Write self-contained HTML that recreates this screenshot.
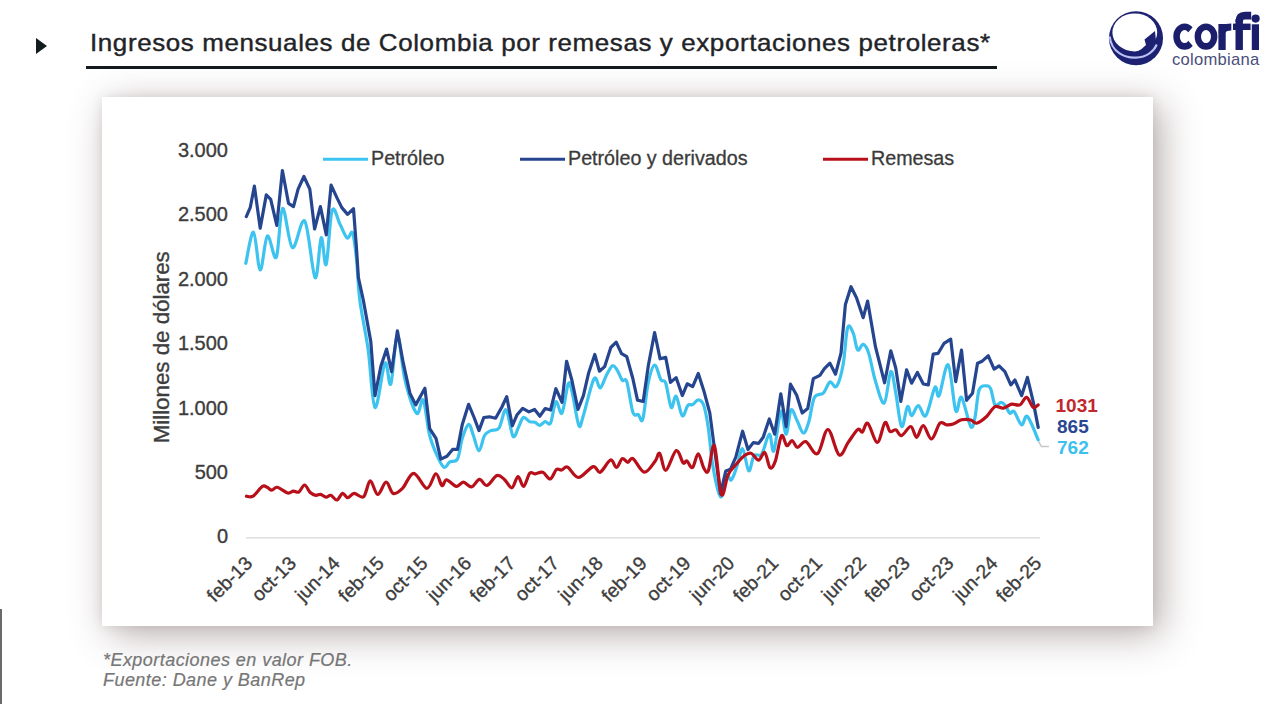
<!DOCTYPE html>
<html><head><meta charset="utf-8">
<style>
html,body{margin:0;padding:0;background:#fff;}
body{width:1280px;height:721px;position:relative;overflow:hidden;font-family:"Liberation Sans",sans-serif;}
.abs{position:absolute;}
#tri{left:35.5px;top:37.5px;width:0;height:0;border-top:8.6px solid transparent;border-bottom:8.6px solid transparent;border-left:11px solid #121c1e;}
#title{left:89.6px;top:28px;font-size:23.6px;color:#1f2428;white-space:nowrap;line-height:30px;letter-spacing:0.55px;transform-origin:0 0;transform:scaleX(1.1);-webkit-text-stroke:0.4px #1f2428;}
#uline{left:86px;top:66px;width:911px;height:2.5px;background:#141a1e;}
#box{left:102px;top:97px;width:1051px;height:529px;background:#fff;box-shadow:0 0 10px 0 rgba(100,80,80,0.12), 8px 8px 36px 0 rgba(100,76,76,0.46);}
#vline{left:0;top:609px;width:1.6px;height:95px;background:#6a6a6a;}
.foot{left:103px;font-style:italic;font-size:18px;line-height:20px;color:#767676;white-space:nowrap;letter-spacing:0.45px;-webkit-text-stroke:0.2px #767676;}
svg text{font-family:"Liberation Sans",sans-serif;}
</style></head>
<body>
<div id="tri" class="abs"></div>
<div id="title" class="abs">Ingresos mensuales de Colombia por remesas y exportaciones petroleras*</div>
<div id="uline" class="abs"></div>
<div id="box" class="abs"></div>
<div id="vline" class="abs"></div>
<div class="abs foot" style="top:650px;">*Exportaciones en valor FOB.</div>
<div class="abs foot" style="top:670px;">Fuente: Dane y BanRep</div>
<svg class="abs" style="left:0;top:0" width="1280" height="721" viewBox="0 0 1280 721">
  <!-- logo -->
  <g id="logo">
    <circle cx="1136" cy="38.2" r="27" fill="#1c2172"/>
    <ellipse cx="1134.8" cy="32.4" rx="22.4" ry="19" fill="#fff"/>
    <path d="M1111.5,41 Q1113,49 1124,52.5 Q1136,55.5 1146,45 L1144.5,39.5 L1155,31 L1156.5,46 Q1150,53 1136,55 Q1118,55 1111.5,41 Z" fill="#1c2172"/>
    <path d="M1109.8,36.5 C1111,52 1125,58.3 1136,57.6 C1147,57 1154,51 1156.8,44.5" fill="none" stroke="#b9c1f0" stroke-width="2.1"/>
    <g fill="#1b1f6b">
      <path fill-rule="evenodd" d="M1184.6,23.4 A11.3,13.2 0 1 0 1184.6,49.8 A11.3,13.2 0 1 0 1184.6,23.4 Z M1184.6,30.1 A4.8,6.5 0 1 1 1184.6,43.1 A4.8,6.5 0 1 1 1184.6,30.1 Z"/>
    </g>
    <path d="M1184.6,36.6 L1199,20 L1199,53 Z" fill="#fff"/>
    <g fill="#1b1f6b">
      <path fill-rule="evenodd" d="M1206,23.4 A11.4,13.2 0 1 0 1206,49.8 A11.4,13.2 0 1 0 1206,23.4 Z M1206,30.1 A5,6.5 0 1 1 1206,43.1 A5,6.5 0 1 1 1206,30.1 Z"/>
      <rect x="1218.4" y="24" width="7.3" height="26"/>
      <rect x="1235.5" y="19" width="7.4" height="31"/>
      <rect x="1233" y="23.6" width="17.6" height="6.4"/>
      <rect x="1251.8" y="24.3" width="7.2" height="25.7"/>
      <circle cx="1255.6" cy="18.6" r="4.1"/>
    </g>
    <path d="M1222,33 Q1222,27 1231.3,27" fill="none" stroke="#1b1f6b" stroke-width="6.8"/>
    <path d="M1239.2,22 Q1239.2,15.6 1245,15.6 L1251.2,15.6" fill="none" stroke="#1b1f6b" stroke-width="7.6"/>
    <text x="1172" y="65" font-size="16.6" fill="#4a4e7a" letter-spacing="0.25">colombiana</text>
  </g>
  <!-- axis -->
  <line x1="246" y1="537.8" x2="1040" y2="537.8" stroke="#d9d9d9" stroke-width="1.3"/>
  <g font-size="20" fill="#3d3d3d" stroke="#3d3d3d" stroke-width="0.35" text-anchor="end">
    <text x="228" y="157">3.000</text>
    <text x="228" y="221.4">2.500</text>
    <text x="228" y="285.8">2.000</text>
    <text x="228" y="350.2">1.500</text>
    <text x="228" y="414.6">1.000</text>
    <text x="228" y="479">500</text>
    <text x="228" y="543.4">0</text>
  </g>
  <text transform="translate(169.3,347.3) rotate(-90)" font-size="22.3" fill="#3d3d3d" stroke="#3d3d3d" stroke-width="0.35" text-anchor="middle">Millones de dólares</text>
  <g font-size="19.3" fill="#3d3d3d" stroke="#3d3d3d" stroke-width="0.35" text-anchor="end">
    <text transform="translate(253.5,564.5) rotate(-45)" x="0" y="0">feb-13</text>
    <text transform="translate(297.3,564.5) rotate(-45)" x="0" y="0">oct-13</text>
    <text transform="translate(341.2,564.5) rotate(-45)" x="0" y="0">jun-14</text>
    <text transform="translate(385.0,564.5) rotate(-45)" x="0" y="0">feb-15</text>
    <text transform="translate(428.9,564.5) rotate(-45)" x="0" y="0">oct-15</text>
    <text transform="translate(472.7,564.5) rotate(-45)" x="0" y="0">jun-16</text>
    <text transform="translate(516.5,564.5) rotate(-45)" x="0" y="0">feb-17</text>
    <text transform="translate(560.4,564.5) rotate(-45)" x="0" y="0">oct-17</text>
    <text transform="translate(604.2,564.5) rotate(-45)" x="0" y="0">jun-18</text>
    <text transform="translate(648.1,564.5) rotate(-45)" x="0" y="0">feb-19</text>
    <text transform="translate(691.9,564.5) rotate(-45)" x="0" y="0">oct-19</text>
    <text transform="translate(735.7,564.5) rotate(-45)" x="0" y="0">jun-20</text>
    <text transform="translate(779.6,564.5) rotate(-45)" x="0" y="0">feb-21</text>
    <text transform="translate(823.4,564.5) rotate(-45)" x="0" y="0">oct-21</text>
    <text transform="translate(867.3,564.5) rotate(-45)" x="0" y="0">jun-22</text>
    <text transform="translate(911.1,564.5) rotate(-45)" x="0" y="0">feb-23</text>
    <text transform="translate(954.9,564.5) rotate(-45)" x="0" y="0">oct-23</text>
    <text transform="translate(998.8,564.5) rotate(-45)" x="0" y="0">jun-24</text>
    <text transform="translate(1042.6,564.5) rotate(-45)" x="0" y="0">feb-25</text>
  </g>
  <!-- legend -->
  <g font-size="19.7" fill="#3b3b3b">
    <line x1="323" y1="159.3" x2="368" y2="159.3" stroke="#3cc3ef" stroke-width="3"/>
    <text x="371" y="165" stroke="#3b3b3b" stroke-width="0.3">Petróleo</text>
    <line x1="520" y1="159.3" x2="565" y2="159.3" stroke="#26458f" stroke-width="3"/>
    <text x="568" y="165" stroke="#3b3b3b" stroke-width="0.3">Petróleo y derivados</text>
    <line x1="823" y1="159.3" x2="868" y2="159.3" stroke="#b8101a" stroke-width="3"/>
    <text x="871" y="165" stroke="#3b3b3b" stroke-width="0.3">Remesas</text>
  </g>
  <!-- series -->
  <path d="M245.8,263.3 C247.1,258.1 251.1,231.1 253.5,232.2 C255.9,233.3 257.9,269.4 260.2,270.0 C262.5,270.6 264.7,238.2 267.4,236.1 C270.1,234.0 273.8,261.8 276.3,257.2 C278.8,252.6 279.9,210.1 282.6,208.5 C285.3,206.9 288.7,245.6 292.4,247.7 C296.1,249.8 301.0,216.2 304.8,221.2 C308.6,226.2 312.4,274.9 315.1,277.7 C317.8,280.5 319.4,240.0 321.2,237.8 C323.0,235.6 324.4,268.9 326.2,264.4 C328.0,259.8 329.8,217.2 332.1,210.5 C334.4,203.8 337.4,219.4 339.9,224.0 C342.4,228.6 345.1,236.5 347.2,238.0 C349.3,239.5 351.0,229.3 352.6,233.0 C354.2,236.7 355.4,248.8 356.6,260.0 C357.8,271.2 357.9,285.0 359.8,300.0 C361.7,315.0 365.7,332.1 368.2,350.0 C370.7,367.9 372.2,405.2 375.0,407.4 C377.8,409.6 382.4,367.1 385.0,363.2 C387.6,359.3 388.7,388.6 390.8,384.0 C392.9,379.4 395.0,336.5 397.4,335.8 C399.8,335.1 401.8,367.1 405.0,380.0 C408.2,392.9 413.6,409.9 416.6,413.2 C419.6,416.5 421.0,396.3 423.2,400.0 C425.4,403.7 427.2,425.9 429.7,435.5 C432.2,445.1 435.6,452.4 438.0,457.7 C440.4,463.0 442.3,466.7 444.3,467.4 C446.3,468.1 447.6,463.3 449.8,461.9 C452.0,460.5 455.4,463.0 457.5,459.1 C459.6,455.2 460.4,444.1 462.3,438.3 C464.2,432.5 466.8,424.9 468.6,424.4 C470.5,423.9 471.7,431.1 473.4,435.5 C475.1,439.9 477.1,450.8 479.0,450.8 C480.9,450.8 482.5,438.9 484.5,435.5 C486.5,432.1 488.4,431.9 490.8,430.6 C493.2,429.3 496.6,431.4 499.1,427.9 C501.6,424.4 503.7,408.4 506.0,409.8 C508.3,411.2 510.9,433.3 513.0,436.2 C515.1,439.1 516.8,430.3 518.5,427.2 C520.2,424.1 521.5,418.4 523.4,417.5 C525.2,416.6 527.7,420.8 529.6,421.6 C531.5,422.4 533.1,421.7 534.8,422.3 C536.5,422.9 538.2,425.4 539.9,425.3 C541.6,425.2 543.4,421.9 545.2,421.5 C547.0,421.1 548.8,426.3 550.6,423.0 C552.4,419.7 554.0,403.3 555.9,401.7 C557.8,400.1 560.0,416.0 562.0,413.1 C564.0,410.2 566.5,387.8 568.1,384.1 C569.8,380.4 570.1,384.1 571.9,391.0 C573.7,397.9 576.9,421.2 578.8,425.3 C580.7,429.4 580.9,423.1 583.4,415.4 C585.9,407.6 591.2,383.4 594.0,378.8 C596.8,374.2 598.1,388.5 600.1,388.0 C602.1,387.5 604.2,379.4 606.2,375.7 C608.2,372.0 610.5,366.8 612.3,365.8 C614.1,364.8 615.2,367.2 616.9,369.6 C618.6,372.0 620.6,378.3 622.3,380.3 C623.9,382.3 625.0,376.5 626.8,381.8 C628.6,387.1 631.0,406.8 632.9,412.3 C634.8,417.8 636.6,413.5 638.3,414.6 C639.9,415.7 641.1,424.4 642.8,419.0 C644.5,413.6 646.3,391.4 648.3,382.4 C650.3,373.4 652.5,365.5 654.6,365.0 C656.7,364.5 658.9,376.6 660.8,379.6 C662.6,382.6 664.0,378.5 665.7,383.1 C667.4,387.7 669.5,405.2 671.2,407.4 C672.9,409.6 674.2,394.9 676.1,396.3 C678.0,397.7 680.3,414.2 682.3,415.7 C684.3,417.2 686.2,407.1 687.9,405.3 C689.6,403.5 691.0,405.5 692.7,404.6 C694.4,403.7 696.5,399.8 698.3,399.9 C700.1,400.0 702.0,400.6 703.7,405.3 C705.4,410.0 706.8,417.9 708.3,428.1 C709.8,438.3 710.9,454.9 712.9,466.3 C714.9,477.8 718.2,495.3 720.5,496.8 C722.8,498.3 724.8,478.2 726.6,475.4 C728.4,472.6 729.6,481.3 731.2,480.0 C732.9,478.7 734.6,473.0 736.5,467.8 C738.4,462.6 740.6,448.2 742.6,448.7 C744.6,449.2 746.8,469.8 748.7,470.9 C750.6,472.0 751.9,458.4 754.1,455.6 C756.3,452.8 759.2,457.7 761.7,454.1 C764.2,450.5 767.3,434.7 769.3,434.2 C771.3,433.7 772.0,454.7 773.9,450.9 C775.8,447.1 778.8,414.2 780.8,411.4 C782.8,408.6 784.4,434.4 786.1,434.2 C787.8,434.0 789.2,412.4 791.0,410.0 C792.8,407.6 794.7,415.9 796.7,419.7 C798.8,423.5 801.3,432.6 803.3,433.0 C805.3,433.4 806.9,427.8 808.8,421.9 C810.6,416.0 812.0,402.3 814.4,397.5 C816.8,392.7 820.7,395.7 823.3,393.1 C825.9,390.5 827.7,383.1 829.9,382.0 C832.1,380.9 834.4,389.3 836.6,386.4 C838.8,383.4 841.4,374.1 843.2,364.3 C845.0,354.5 845.9,332.9 847.6,327.7 C849.3,322.5 851.5,329.5 853.2,333.2 C854.9,336.9 855.9,347.9 857.6,349.8 C859.3,351.7 861.4,343.7 863.2,344.3 C865.1,344.9 866.7,347.1 868.7,353.2 C870.7,359.3 872.8,372.6 875.4,380.9 C878.0,389.2 881.6,404.7 884.2,403.1 C886.8,401.6 888.9,373.2 890.8,371.6 C892.7,370.0 894.0,384.1 895.8,393.2 C897.6,402.3 899.6,424.3 901.6,426.5 C903.6,428.7 905.8,408.3 907.5,406.5 C909.2,404.7 909.8,415.8 911.6,415.7 C913.4,415.6 915.9,405.7 918.3,405.7 C920.7,405.7 923.0,418.8 925.8,415.7 C928.6,412.6 932.7,390.7 934.9,387.4 C937.1,384.1 936.9,399.4 939.1,395.7 C941.3,391.9 945.4,362.4 948.2,364.9 C951.0,367.4 953.5,405.3 955.7,410.7 C957.9,416.1 959.0,394.8 961.5,397.4 C964.0,400.0 968.5,423.2 970.7,426.5 C973.0,429.8 973.6,423.5 975.0,417.4 C976.4,411.3 977.2,395.2 979.1,389.9 C981.0,384.6 984.7,385.9 986.6,385.8 C988.5,385.7 989.4,385.9 990.8,389.1 C992.2,392.3 993.3,402.7 995.0,404.9 C996.7,407.1 999.1,402.4 1000.8,402.4 C1002.4,402.4 1003.4,403.1 1004.9,404.9 C1006.4,406.7 1008.4,412.1 1009.9,413.2 C1011.4,414.3 1012.1,409.6 1014.1,411.5 C1016.1,413.4 1019.4,424.1 1021.6,424.9 C1023.8,425.7 1024.6,414.0 1027.4,416.5 C1030.2,419.0 1036.4,435.9 1038.2,439.8" fill="none" stroke="#3cc3ef" stroke-width="3.2" stroke-linejoin="round" stroke-linecap="round"/>
  <path d="M246.3,216.6 L250.2,207.7 L254.4,186.1 L260.2,228.2 L266.3,194.9 L270.7,199.4 L276.8,225.4 L282.4,170.5 L288.5,203.3 L293.5,206.6 L298.1,189.1 L303.9,176.5 L309.8,189.1 L314.6,229.0 L320.4,206.6 L326.3,234.8 L331.1,185.2 L337.0,197.9 L341.8,207.6 L347.6,214.4 L353.5,208.7 L356.5,248.5 L358.4,277.7 L363.3,300.0 L370.8,341.6 L375.0,395.7 L380.8,366.6 L386.6,349.1 L391.6,371.6 L397.4,330.8 L403.3,363.2 L409.9,393.2 L415.7,404.9 L424.9,388.3 L429.7,428.6 L436.0,438.3 L440.8,459.1 L447.0,456.3 L452.6,449.4 L457.5,449.4 L462.3,424.4 L468.6,404.3 L474.1,417.5 L479.0,430.6 L483.8,417.5 L489.4,416.8 L495.6,418.2 L501.9,407.0 L506.7,396.6 L512.3,425.8 L517.1,414.7 L522.7,408.4 L528.9,411.9 L534.6,409.5 L539.9,416.2 L545.2,408.5 L550.6,410.0 L555.9,388.7 L562.0,402.4 L566.6,361.3 L571.9,380.3 L578.0,409.3 L583.4,395.6 L588.7,372.7 L594.8,354.4 L599.4,371.2 L604.7,366.6 L610.8,347.5 L616.2,342.2 L621.5,353.6 L626.8,356.7 L632.9,378.8 L637.5,400.1 L643.2,401.5 L648.3,365.8 L654.6,332.5 L660.1,358.8 L665.7,357.4 L670.5,382.4 L676.1,377.6 L682.3,395.6 L687.2,383.8 L692.7,386.6 L698.3,373.4 L703.8,390.7 L709.8,412.9 L713.6,441.9 L720.5,493.7 L725.8,470.9 L730.4,469.3 L735.8,457.1 L742.6,431.2 L748.0,449.5 L753.3,442.6 L758.6,443.4 L763.2,437.3 L769.3,419.0 L774.7,434.2 L780.8,393.8 L786.1,426.6 L790.5,384.2 L796.7,395.3 L802.2,413.0 L807.7,408.6 L813.3,378.7 L819.9,375.3 L824.4,368.7 L829.9,363.1 L835.5,374.2 L841.0,353.2 L845.4,304.4 L851.0,286.7 L856.5,297.7 L863.2,317.7 L867.6,301.1 L875.4,346.5 L884.6,382.8 L890.8,350.8 L895.8,368.3 L900.8,401.5 L906.6,369.9 L911.6,383.2 L917.4,372.4 L923.3,384.0 L928.3,384.9 L933.2,354.1 L938.2,353.3 L944.1,343.3 L950.7,339.1 L955.7,381.6 L961.5,350.0 L966.6,400.3 L972.5,393.2 L977.5,363.3 L981.6,361.6 L988.3,355.8 L994.1,369.1 L999.1,365.8 L1004.9,371.6 L1010.8,384.9 L1014.9,379.9 L1021.6,395.7 L1027.4,377.4 L1033.2,401.6 L1038.2,427.4" fill="none" stroke="#26458f" stroke-width="3.2" stroke-linejoin="round" stroke-linecap="round"/>
  <path d="M246.4,496.2 C247.5,496.2 250.3,497.8 253.0,496.2 C255.7,494.6 260.0,487.9 262.4,486.4 C264.8,484.9 265.5,486.7 267.1,487.3 C268.7,487.9 270.1,490.2 271.8,490.2 C273.5,490.2 274.8,486.8 277.4,487.3 C280.0,487.8 285.0,492.4 287.7,493.0 C290.4,493.6 291.4,491.3 293.3,491.1 C295.2,490.9 297.0,493.0 298.9,492.0 C300.8,491.0 302.7,484.9 304.6,485.0 C306.5,485.1 308.3,490.8 310.2,492.5 C312.1,494.2 314.1,495.0 315.8,495.3 C317.5,495.6 318.8,494.1 320.5,494.4 C322.2,494.7 324.4,497.0 326.1,497.2 C327.8,497.4 329.0,494.8 330.8,495.3 C332.6,495.8 334.9,500.3 336.9,500.0 C338.8,499.7 340.7,493.8 342.5,493.4 C344.3,493.0 345.8,497.7 347.7,497.7 C349.6,497.7 351.5,493.6 354.2,493.4 C356.9,493.2 360.9,498.8 363.6,496.7 C366.3,494.6 367.9,481.2 370.2,480.8 C372.5,480.4 375.0,494.2 377.7,494.4 C380.4,494.6 383.5,482.4 386.1,482.2 C388.7,482.0 390.4,492.4 393.1,493.4 C395.8,494.4 399.1,491.6 402.5,488.3 C405.9,485.0 409.6,473.3 413.7,473.3 C417.8,473.3 423.2,488.2 426.9,488.3 C430.6,488.4 433.3,474.3 435.8,473.8 C438.3,473.3 440.1,484.5 441.9,485.5 C443.7,486.5 444.2,479.7 446.6,479.8 C449.0,479.9 453.6,486.0 456.4,486.4 C459.2,486.8 460.9,482.1 463.4,482.2 C465.9,482.3 468.9,487.4 471.6,486.9 C474.3,486.4 476.9,479.6 479.5,479.4 C482.1,479.2 484.1,486.1 487.0,485.5 C489.9,484.9 494.0,476.6 496.9,475.6 C499.8,474.6 501.9,477.4 504.4,479.4 C506.9,481.4 509.6,488.3 511.9,487.8 C514.2,487.3 516.0,476.8 518.0,476.6 C520.0,476.4 521.6,486.9 523.6,486.4 C525.6,485.8 527.8,475.4 529.7,473.3 C531.7,471.2 533.1,474.0 535.3,473.8 C537.5,473.6 540.3,471.5 542.8,472.3 C545.3,473.1 548.0,479.4 550.3,478.9 C552.6,478.4 554.5,471.0 556.4,469.5 C558.3,468.0 559.7,470.4 561.6,470.0 C563.5,469.6 564.9,465.9 567.7,467.2 C570.5,468.4 574.2,477.6 578.4,477.5 C582.6,477.4 589.5,467.5 593.1,466.6 C596.7,465.7 597.3,473.3 600.2,472.2 C603.1,471.1 607.8,460.8 610.5,460.0 C613.2,459.2 614.6,467.7 616.6,467.5 C618.6,467.3 620.3,459.5 622.2,458.6 C624.1,457.7 626.0,462.3 627.8,462.3 C629.6,462.3 630.3,457.0 633.0,458.6 C635.7,460.2 640.5,471.7 644.2,472.2 C647.9,472.7 652.4,464.5 655.0,461.4 C657.6,458.3 657.9,451.9 659.7,453.4 C661.5,454.9 663.1,470.8 665.8,470.3 C668.5,469.8 673.2,451.9 676.1,450.6 C679.0,449.4 681.3,461.1 683.1,462.8 C684.9,464.5 685.3,460.1 686.9,460.9 C688.5,461.7 690.6,468.7 692.5,467.5 C694.4,466.3 696.3,453.8 698.2,453.8 C700.1,453.9 702.0,465.0 703.7,467.8 C705.4,470.6 706.5,474.6 708.3,470.9 C710.1,467.2 712.2,441.8 714.4,445.7 C716.6,449.6 719.0,489.7 721.3,494.5 C723.6,499.3 725.7,479.6 728.1,474.7 C730.5,469.8 733.2,467.9 735.8,464.8 C738.3,461.8 740.9,458.3 743.4,456.4 C745.9,454.5 748.5,452.7 751.0,453.3 C753.5,453.9 756.3,460.3 758.6,460.2 C760.9,460.1 762.9,451.2 764.8,452.5 C766.7,453.8 768.3,466.4 770.1,467.8 C771.9,469.2 773.5,466.2 775.4,460.9 C777.3,455.6 779.6,438.3 781.5,435.8 C783.4,433.3 785.1,444.9 786.9,445.7 C788.7,446.5 790.3,440.2 792.1,440.5 C793.9,440.8 795.2,447.2 797.5,447.4 C799.8,447.6 802.5,440.6 805.8,441.6 C809.1,442.7 813.8,455.7 817.5,453.7 C821.2,451.7 824.3,429.3 827.9,429.5 C831.5,429.7 835.7,452.8 839.1,454.9 C842.5,457.0 845.1,446.6 848.2,442.4 C851.3,438.2 855.4,431.2 857.8,429.5 C860.2,427.8 860.7,433.0 862.4,432.0 C864.1,431.0 865.3,421.6 867.8,423.3 C870.3,425.0 874.5,442.5 877.4,442.4 C880.2,442.3 882.8,424.4 884.9,422.6 C887.0,420.8 888.2,430.3 890.0,431.5 C891.8,432.7 893.9,429.1 895.8,429.8 C897.7,430.5 899.1,436.2 901.6,435.6 C904.1,435.1 908.3,426.2 910.8,426.5 C913.3,426.8 914.5,437.4 916.6,437.3 C918.7,437.2 920.8,425.4 923.3,425.7 C925.8,426.0 928.8,439.4 931.6,439.0 C934.4,438.6 937.4,425.6 939.9,423.2 C942.4,420.8 944.4,424.7 946.6,424.8 C948.8,424.9 950.7,424.8 953.2,424.0 C955.7,423.2 958.6,420.5 961.5,419.8 C964.4,419.1 968.3,419.4 970.8,420.0 C973.3,420.6 974.0,423.8 976.6,423.2 C979.2,422.6 983.5,419.3 986.6,416.5 C989.7,413.7 992.2,408.0 995.0,406.6 C997.8,405.2 1000.5,408.6 1003.3,408.2 C1006.1,407.8 1008.8,404.7 1011.6,404.1 C1014.4,403.6 1017.4,406.0 1019.9,404.9 C1022.4,403.8 1024.4,397.0 1026.6,397.4 C1028.8,397.8 1031.3,406.1 1033.2,407.4 C1035.1,408.6 1037.4,405.3 1038.2,404.9" fill="none" stroke="#b8101a" stroke-width="3.2" stroke-linejoin="round" stroke-linecap="round"/>
  <polyline points="1038.5,441.5 1041.5,446.6 1049,446.6" fill="none" stroke="#c8c8c8" stroke-width="1.5"/>
  <g font-size="19" font-weight="bold">
    <text x="1055.5" y="412.2" fill="#c0282d">1031</text>
    <text x="1057" y="433.3" fill="#2a4891">865</text>
    <text x="1057" y="454" fill="#3cc0ee">762</text>
  </g>
</svg>
</body></html>
